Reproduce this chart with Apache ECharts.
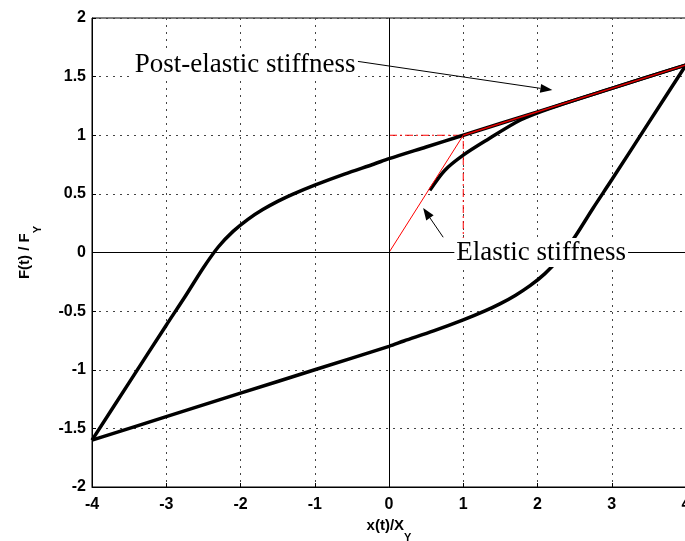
<!DOCTYPE html>
<html>
<head>
<meta charset="utf-8">
<script src="https://cdn.jsdelivr.net/npm/echarts@6/dist/echarts.min.js"></script>
<style>
html,body{margin:0;padding:0;background:#fff;}
#c{width:685px;height:541px;}
</style>
</head>
<body>
<div id="c"></div>
<script>
// Loading branch (from (-4,-1.6) up to (4,1.6))
const upperX = [-4, -3.5, -3, -2.75, -2.5, -2.3, -2.1, -1.9, -1.7, -1.5, -1.3, -1, -0.6, -0.2, 0, 0.5, 1, 2, 3, 4];
const upperY = [-1.6, -1.11, -0.62, -0.38, -0.13, 0.047, 0.18, 0.283, 0.366, 0.436, 0.496, 0.575, 0.669, 0.755, 0.8, 0.9, 1.0, 1.2, 1.4, 1.6];
// Unloading branch (from (4,1.6) down to (-4,-1.6))
const lowerX = [4, 3.5, 3, 2.75, 2.5, 2.3, 2.1, 1.9, 1.7, 1.5, 1.3, 1, 0.6, 0.2, 0, -1, -2, -3, -4];
const lowerY = [1.6, 1.11, 0.62, 0.38, 0.13, -0.047, -0.18, -0.283, -0.366, -0.436, -0.496, -0.575, -0.669, -0.755, -0.8, -1.0, -1.2, -1.4, -1.6];
// Initial loading curve
const initX = [0.55, 0.75, 1.0, 1.32, 1.77, 2.17, 3, 4];
const initY = [0.53, 0.7, 0.83, 0.96, 1.13, 1.23, 1.4, 1.6];
// Stiffness reference lines
const elasticX = [0, 1];
const elasticY = [0, 1];
const postX = [1, 4];
const postY = [1, 1.6];
const guideX = [0, 1, 1];
const guideY = [1, 1, 0];
// Ticks
const xTicks = [-4, -3, -2, -1, 0, 1, 2, 3, 4];
const yTicks = [-2, -1.5, -1, -0.5, 0, 0.5, 1, 1.5, 2];
// Annotations (data coordinates)
const noteTexts = ['Post-elastic stiffness', 'Elastic stiffness'];
const noteAnchorX = [-3.45, 0.88];
const noteAnchorY = [1.6, 0.0];
const arrowFromX = [-0.42, 0.73];
const arrowFromY = [1.63, 0.13];
const arrowToX = [2.2, 0.46];
const arrowToY = [1.385, 0.38];

const zip = (xs, ys) => xs.map((x, i) => [x, ys[i]]);

const chart = echarts.init(document.getElementById('c'), null, {renderer: 'canvas'});
const lblFont = {fontFamily: 'Liberation Sans', fontWeight: 'bold', fontSize: 16, color: '#000'};
const nameRich = {
  a: {fontFamily: 'Liberation Sans', fontWeight: 'bold', fontSize: 15, lineHeight: 26, verticalAlign: 'top', color: '#000'},
  s: {fontFamily: 'Liberation Sans', fontWeight: 'bold', fontSize: 11, lineHeight: 16, verticalAlign: 'bottom', color: '#000'}
};

const option = {
  animation: false,
  backgroundColor: '#fff',
  grid: {left: 92, top: 18, width: 594, height: 469, show: true, borderColor: '#000', borderWidth: 1,
         backgroundColor: 'transparent', outerBoundsMode: 'none', containLabel: false},
  xAxis: {
    type: 'value', min: xTicks[0], max: xTicks[xTicks.length - 1], interval: 1,
    axisLine: {show: true, onZero: false, lineStyle: {color: '#000', width: 1}},
    axisTick: {show: true, inside: true, length: 4, lineStyle: {color: '#000'}},
    axisLabel: Object.assign({margin: 10}, lblFont),
    splitLine: {show: true, lineStyle: {color: '#444', width: 1, type: [2, 5]}},
    name: '{a|x(t)/X}{s|Y}',
    nameLocation: 'middle', nameGap: 26,
    nameTextStyle: {rich: nameRich}
  },
  yAxis: {
    type: 'value', min: yTicks[0], max: yTicks[yTicks.length - 1], interval: 0.5,
    axisLine: {show: true, onZero: false, lineStyle: {color: '#000', width: 1}},
    axisTick: {show: true, inside: true, length: 4, lineStyle: {color: '#000'}},
    axisLabel: Object.assign({margin: 6}, lblFont),
    splitLine: {show: true, lineStyle: {color: '#444', width: 1, type: [2, 5]}},
    name: '{a|F(t) / F}{s|Y}',
    nameLocation: 'middle', nameGap: 49, nameRotate: 90,
    nameTextStyle: {rich: nameRich}
  },
  series: [
    {
      type: 'line', data: [], z: 1, silent: true,
      markLine: {
        silent: true, symbol: 'none', label: {show: false},
        lineStyle: {color: '#000', width: 1, type: 'solid'},
        data: [{xAxis: 0}, {yAxis: 0}]
      }
    },
    {type: 'line', data: zip(guideX, guideY), symbol: 'none', z: 2,
     lineStyle: {color: '#ff0000', width: 1, type: [8, 3, 2, 3]}},
    {type: 'line', data: zip(upperX, upperY), symbol: 'none', smooth: 0.3, z: 3,
     lineStyle: {color: '#000', width: 3.5}},
    {type: 'line', data: zip(lowerX, lowerY), symbol: 'none', smooth: 0.3, z: 3,
     lineStyle: {color: '#000', width: 3.5}},
    {type: 'line', data: zip(initX, initY), symbol: 'none', smooth: 0.3, z: 3,
     lineStyle: {color: '#000', width: 3.5}},
    {type: 'line', data: zip(elasticX, elasticY), symbol: 'none', z: 4,
     lineStyle: {color: '#ff0000', width: 1}},
    {type: 'line', data: zip(postX, postY), symbol: 'none', z: 4,
     lineStyle: {color: '#e00000', width: 1.6}}
  ]
};
chart.setOption(option);

const graphics = [];
for (let i = 0; i < noteTexts.length; i++) {
  const a = chart.convertToPixel({gridIndex: 0}, [arrowFromX[i], arrowFromY[i]]);
  const b = chart.convertToPixel({gridIndex: 0}, [arrowToX[i], arrowToY[i]]);
  const dx = b[0] - a[0], dy = b[1] - a[1];
  const len = Math.sqrt(dx * dx + dy * dy);
  const ux = dx / len, uy = dy / len;
  const hl = 12, hw = 4.5;
  const bx = b[0] - ux * hl, by = b[1] - uy * hl;
  graphics.push({
    type: 'line', z: 100,
    shape: {x1: a[0], y1: a[1], x2: bx, y2: by},
    style: {stroke: '#000', lineWidth: 1}
  });
  graphics.push({
    type: 'polygon', z: 100,
    shape: {points: [[b[0], b[1]], [bx - uy * hw, by + ux * hw], [bx + uy * hw, by - ux * hw]]},
    style: {fill: '#000'}
  });
  const t = chart.convertToPixel({gridIndex: 0}, [noteAnchorX[i], noteAnchorY[i]]);
  graphics.push({
    type: 'text', z: 101,
    x: t[0], y: t[1],
    style: {
      text: noteTexts[i],
      font: '27px "Liberation Serif", "Times New Roman", serif',
      fill: '#000', align: 'left', verticalAlign: 'middle',
      backgroundColor: '#fff', padding: [1, 2, 1, 2]
    }
  });
}
chart.setOption({graphic: graphics});
</script>
</body>
</html>
